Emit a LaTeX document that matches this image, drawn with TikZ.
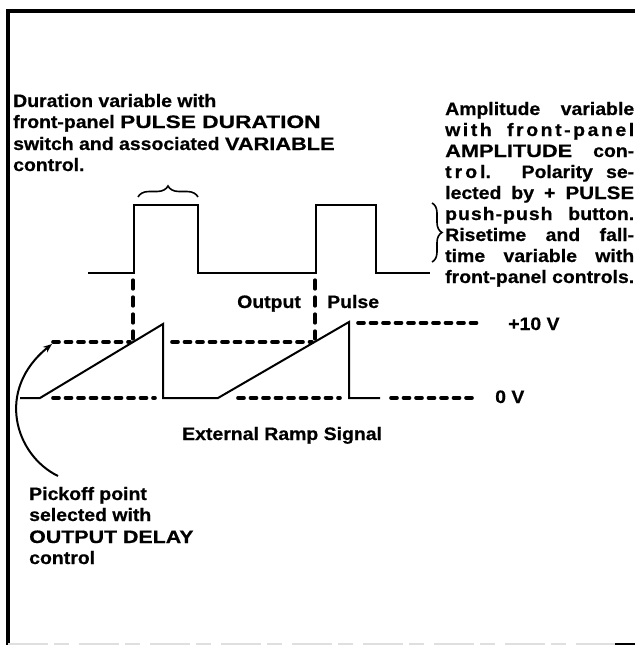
\documentclass[tikz,border=0pt]{standalone}
\usepackage{fontspec}
\usepackage{graphicx}
\newfontfamily\lab{Liberation Sans}[FakeStretch=1.08,FakeBold=0.6]
\usetikzlibrary{decorations.pathreplacing,arrows.meta}
\tikzset{
  wave/.style={line width=2pt, line join=miter},
  hdash/.style={line width=3.6pt, line cap=round, dash pattern=on 6pt off 6.5pt},
  vdash/.style={line width=3.3pt, line cap=round, dash pattern=on 9pt off 8pt},
  lbl/.style={font=\lab\bfseries\fontsize{18}{21}\selectfont, inner sep=0pt, anchor=base west},
  rline/.style={lbl},
  brc/.style={line width=1.6pt, decorate, decoration={brace, amplitude=#1}},
}
\newcommand{\rl}[1]{\makebox[189pt][s]{#1}}
\newcommand{\wc}[2][1.15]{\scalebox{#1}[1]{#2}}
\begin{document}
\begin{tikzpicture}[x=1pt,y=-1pt]
\useasboundingbox (0,0) rectangle (635,645);
% frame
\draw[line width=4pt, line join=miter] (8,645) -- (8,11) -- (635,11);
\draw[gray!25, line width=1.5pt, dash pattern=on 40pt off 6pt on 15pt off 10pt] (8,644) -- (615,644);
\draw[line width=2pt] (615,644) -- (635,644);
% left text
\node[lbl] (d1) at (13,107) {Duration variable with};
\node[lbl] (d2) at (13,128) {front-panel \wc[1.17]{PULSE DURATION}};
\node[lbl] (d3) at (13,150) {switch and associated \wc[1.12]{VARIABLE}};
\node[lbl] (d4) at (13,171) {control.};
% right text
\node[rline] (a1) at (445,115) {\rl{Amplitude variable}};
\node[rline] (a2) at (445,136) {\rl{w\hfil i\hfil t\hfil h\hfil\hfil\hfil\hfil\hfil\hfil f\hfil r\hfil o\hfil n\hfil t\hfil -\hfil p\hfil a\hfil n\hfil e\hfil l}};
\node[rline] (a3) at (445,157) {\rl{\wc[1.12]{AMPLITUDE} con-}};
\node[rline] (a4) at (445,178) {\rl{t\,r\,o\,l. Polarity se-}};
\node[rline] (a5) at (445,199) {\rl{lected by + \wc[1.06]{PULSE}}};
\node[rline] (a6) at (445,220) {\rl{p\kern1pt u\kern1pt s\kern1pt h\kern1pt -\kern1pt p\kern1pt u\kern1pt s\kern1pt h button.}};
\node[rline] (a7) at (445,241) {\rl{Risetime and fall-}};
\node[rline] (a8) at (445,262) {\rl{time variable with}};
\node[rline] (a9) at (445,283) {\rl{front-panel controls.}};
% braces
\draw[brc=11pt] (138,197) -- (198,197);
\draw[brc=10pt] (432,203) -- (432,262);
% pulse train
\draw[wave] (88,273) -- (134,273) -- (134,205) -- (198,205) -- (198,273) -- (316,273) -- (316,205) -- (376,205) -- (376,273) -- (430,273);
% ramp
\draw[wave] (20,398) -- (40,398) -- (163,324) -- (163,398) -- (218,398) -- (349,322) -- (349,398) -- (380,398);
% dashed levels
\draw[hdash] (53,342) -- (130,342);
\draw[hdash] (172,342) -- (312,342);
\draw[hdash] (358,323) -- (478,323);
\draw[hdash] (53,398) -- (155,398);
\draw[hdash] (238,398) -- (340,398);
\draw[hdash] (391,398) -- (476,398);
% vertical dashed
\draw[vdash] (133,280) -- (133,339);
\draw[vdash] (315,280) -- (315,339);
% labels
\node[lbl] (out) at (237,308) {Output};
\node[lbl] (pul) at (327,308) {Pulse};
\node[lbl] (p10) at (508,330) {+10 V};
\node[lbl] (z0) at (495,403) {0 V};
\node[lbl] (ext) at (182,440) {External Ramp Signal};
\node[lbl] (k1) at (29,500) {Pickoff point};
\node[lbl] (k2) at (29,521) {selected with};
\node[lbl] (k3) at (29,543) {\wc[1.1]{OUTPUT DELAY}};
\node[lbl] (k4) at (29,564) {control};
% pickoff arrow
\coordinate (arrS) at (58,476);
\coordinate (arrE) at (52,344);
\draw[line width=2pt, -{Stealth[length=9pt,width=7pt]}] (arrS) .. controls (15,455) and (-5,390) .. (arrE);
\end{tikzpicture}
\end{document}
